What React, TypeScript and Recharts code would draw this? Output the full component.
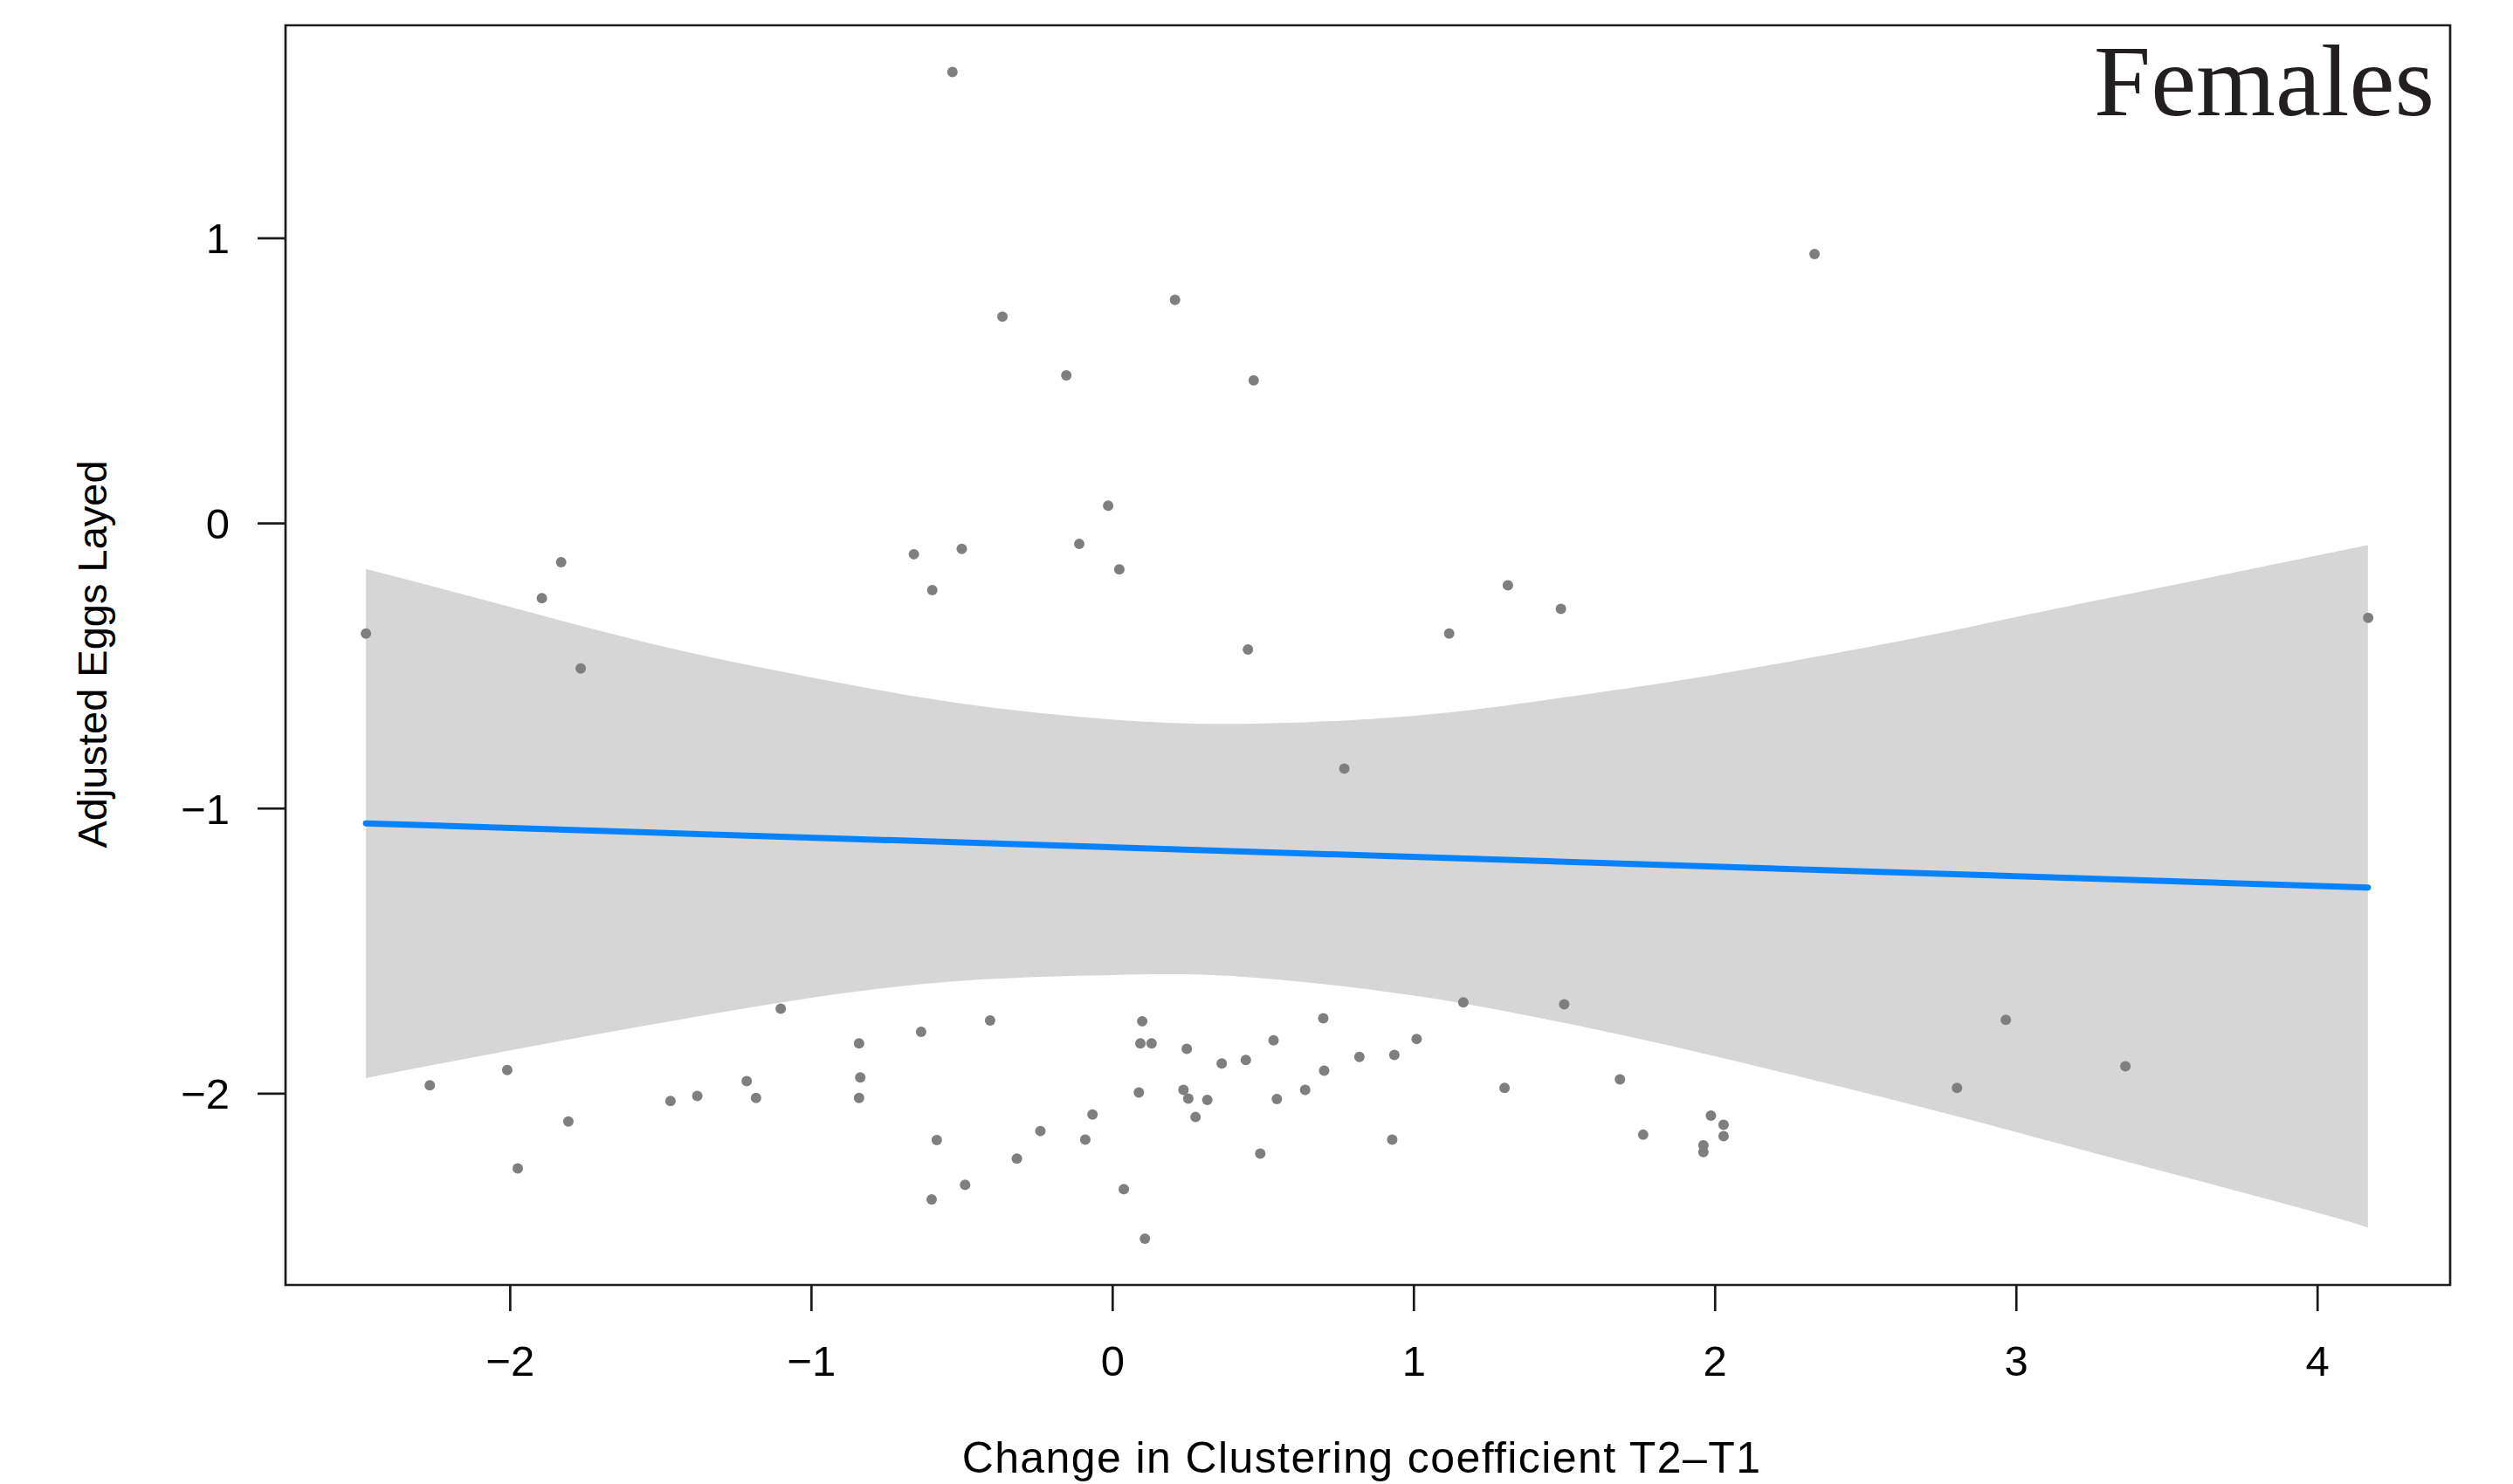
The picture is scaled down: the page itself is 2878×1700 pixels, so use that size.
import React from 'react';
import {
  ComposedChart,
  XAxis,
  YAxis,
  Area,
  Line,
  Scatter,
  ReferenceArea,
  Label,
} from 'recharts';

// ---- Data ----
const X_TICKS = [-2, -1, 0, 1, 2, 3, 4];
const Y_TICKS = [-2, -1, 0, 1];
const X_DOMAIN: [number, number] = [-2.746, 4.44];
const Y_DOMAIN: [number, number] = [-2.671, 1.747];

const X_TITLE = 'Change in Clustering coefficient T2\u2013T1';
const Y_TITLE = 'Adjusted Eggs Layed';
const PANEL_TITLE = 'Females';

// individual observations (x, y)
const POINT_X = [
  -2.479, -1.831, -1.895, -1.766, -0.532, -0.366, 0.207, -0.154, 0.468, -0.015,
  -0.66, -0.501, -0.111, 0.022, -0.599, 1.312, 1.488, 1.117, 0.449, 2.33,
  4.168, 0.769,
  -2.267, -2.01, -1.807, -1.975, -1.468, -1.379, -1.215, -1.184, -1.102, -0.842,
  -0.838, -0.842, -0.636, -0.407, -0.584, -0.601, -0.49, -0.318, -0.24, -0.091,
  -0.067, 0.037, 0.107, 0.098, 0.092, 0.129, 0.087, 0.246, 0.235, 0.251,
  0.314, 0.275, 0.362, 0.442, 0.534, 0.545, 0.49, 0.699, 0.702, 0.639,
  0.819, 0.935, 0.928, 1.009, 1.164, 1.499, 1.301, 1.684, 1.761, 1.986,
  2.028, 2.028, 1.961, 1.961, 2.965, 3.362, 2.803,
];
const POINT_Y = [
  -0.386, -0.136, -0.262, -0.509, 1.583, 0.725, 0.784, 0.519, 0.502, 0.062,
  -0.108, -0.089, -0.072, -0.161, -0.234, -0.217, -0.3, -0.386, -0.442, 0.945,
  -0.331, -0.86,
  -1.971, -1.917, -2.098, -2.262, -2.026, -2.008, -1.956, -2.015, -1.702, -1.824,
  -1.943, -2.015, -1.783, -1.743, -2.163, -2.371, -2.32, -2.228, -2.131, -2.161,
  -2.073, -2.335, -2.509, -1.746, -1.824, -1.824, -1.996, -1.843, -1.987, -2.017,
  -2.022, -2.082, -1.894, -1.882, -1.813, -2.019, -2.21, -1.736, -1.919, -1.987,
  -1.871, -1.864, -2.161, -1.808, -1.68, -1.687, -1.98, -1.95, -2.144, -2.077,
  -2.109, -2.149, -2.181, -2.205, -1.741, -1.904, -1.98,
];

// confidence band of the fit, read at several x positions
const BAND_X = [-2.479, -2.0, -1.5, -1.0, -0.5, 0.0, 0.43, 1.0, 1.5, 2.0, 2.625, 3.0, 3.5, 4.0, 4.167];
const BAND_LOW = [-1.945, -1.848, -1.752, -1.664, -1.604, -1.584, -1.59, -1.656, -1.752, -1.869, -2.031, -2.135, -2.276, -2.418, -2.47];
const BAND_HIGH = [-0.16, -0.293, -0.43, -0.54, -0.632, -0.688, -0.703, -0.675, -0.61, -0.53, -0.41, -0.328, -0.22, -0.112, -0.076];

// fitted regression line (end points)
const FIT_X = [-2.479, 4.167];
const FIT_Y = [-1.052, -1.277];

// ---- Tables built from the arrays ----
const points = POINT_X.map((x, i) => ({ x, y: POINT_Y[i] }));
const band = BAND_X.map((x, i) => ({ x, band: [BAND_LOW[i], BAND_HIGH[i]] }));
const fit = FIT_X.map((x, i) => ({ x, y: FIT_Y[i] }));

const SANS = "'Liberation Sans', Arial, Helvetica, sans-serif";
const SERIF = "'Liberation Serif', 'Times New Roman', serif";
const fmt = (v: number) => String(v).replace('-', '\u2212');

const XTitle = (props: any) => {
  const vb = props.viewBox || {};
  const cx = (vb.x ?? 319) + (vb.width ?? 2479) / 2 - 7;
  const y = (vb.y ?? 1464) + 215;
  return (
    <text x={cx} y={y} textAnchor="middle" fontFamily={SANS} fontSize={50} letterSpacing={1.4} fill="#000">
      {X_TITLE}
    </text>
  );
};

const YTitle = (props: any) => {
  const vb = props.viewBox || {};
  const cy = (vb.y ?? 21) + (vb.height ?? 1443) / 2 - 1;
  const bx = 114;
  return (
    <text
      x={0}
      y={0}
      transform={`translate(${bx},${cy}) rotate(-90)`}
      textAnchor="middle"
      fontFamily={SANS}
      fontSize={47}
      fill="#000"
    >
      {Y_TITLE}
    </text>
  );
};

const PanelTitle = (props: any) => {
  const vb = props.viewBox || {};
  const x = (vb.x ?? 319) + (vb.width ?? 2479) - 18;
  const y = (vb.y ?? 21) + 103;
  return (
    <text x={x} y={y} textAnchor="end" fontFamily={SERIF} fontSize={117} fill="#231f20">
      {PANEL_TITLE}
    </text>
  );
};

const Dot = (props: any) => {
  const { cx, cy } = props;
  if (cx == null || cy == null) return null;
  return <circle cx={cx} cy={cy} r={6} fill="#7f7f7f" />;
};

export default function App() {
  return (
    <div style={{ width: 2862, height: 1692, background: '#fff' }}>
      <ComposedChart
        width={2862}
        height={1692}
        margin={{ top: 21, right: 64, bottom: 0, left: 0 }}
      >
        <XAxis
          type="number"
          dataKey="x"
          domain={X_DOMAIN}
          ticks={X_TICKS}
          allowDataOverflow
          axisLine={false}
          tickSize={30}
          tickMargin={39}
          tickLine={{ stroke: '#1a1a1a', strokeWidth: 2.7 }}
          tick={{ fill: '#000', fontSize: 49, fontFamily: SANS }}
          tickFormatter={fmt}
          height={228}
        >
          <Label content={XTitle} />
        </XAxis>
        <YAxis
          type="number"
          dataKey="y"
          domain={Y_DOMAIN}
          ticks={Y_TICKS}
          allowDataOverflow
          axisLine={false}
          tickSize={32}
          tickMargin={32}
          tickLine={{ stroke: '#1a1a1a', strokeWidth: 2.7 }}
          tick={{ fill: '#000', fontSize: 49, fontFamily: SANS }}
          tickFormatter={fmt}
          width={319}
        >
          <Label content={YTitle} />
        </YAxis>
        <Area
          data={band}
          dataKey="band"
          type="natural"
          stroke="none"
          fill="#d6d6d6"
          fillOpacity={1}
          isAnimationActive={false}
          activeDot={false}
        />
        <Line
          data={fit}
          dataKey="y"
          type="linear"
          stroke="#0582ff"
          strokeWidth={7}
          strokeLinecap="round"
          dot={false}
          activeDot={false}
          isAnimationActive={false}
        />
        <Scatter data={points} dataKey="y" shape={Dot} isAnimationActive={false} />
        <ReferenceArea
          x1={X_DOMAIN[0]}
          x2={X_DOMAIN[1]}
          y1={Y_DOMAIN[0]}
          y2={Y_DOMAIN[1]}
          fill="none"
          fillOpacity={0}
          stroke="#1c1c1c"
          strokeWidth={2.7}
          strokeOpacity={1}
          ifOverflow="visible"
        >
          <Label content={PanelTitle} />
        </ReferenceArea>
      </ComposedChart>
    </div>
  );
}
